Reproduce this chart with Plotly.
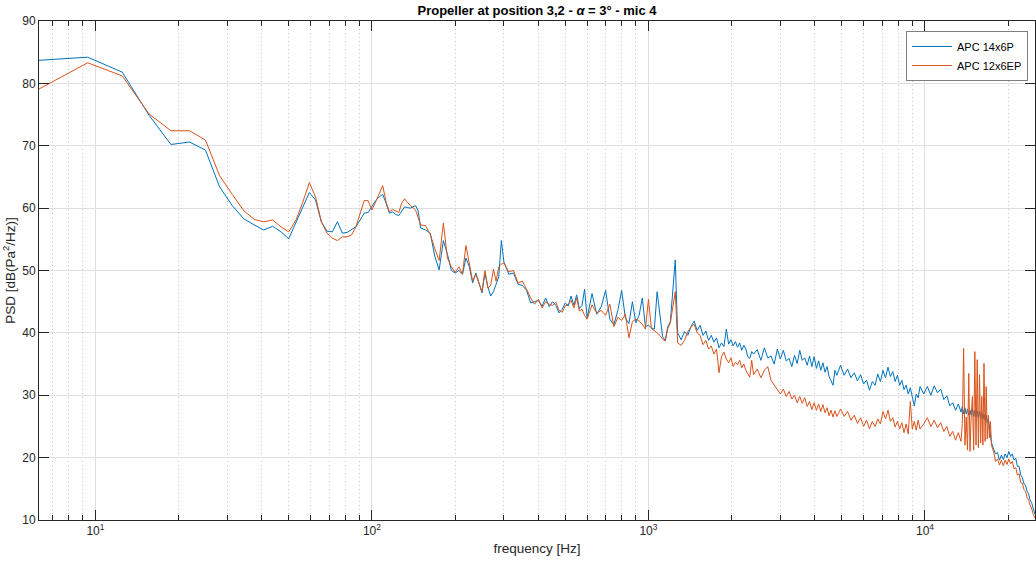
import plotly.graph_objects as go

# ---------------- data ----------------
freq_hz = [
    # uniform low-frequency bins
    6.25, 9.375, 12.5, 15.625, 18.75, 21.875, 25, 28.125, 31.25, 34.375,
    37.5, 40.625, 43.75, 46.875, 50, 53.125, 56.25, 59.375, 62.5, 65.625,
    68.75, 71.875, 75, 78.125, 81.25, 84.375, 87.5, 90.625, 93.75, 96.875,
    100, 103.125, 106.25, 109.375, 112.5, 115.625, 118.75, 121.875, 125, 128.125,
    131.25, 134.375, 137.5, 140.625, 143.75, 146.875, 150,
    # 150-300
    156.25, 162.5, 168.75, 175, 181.25, 187.5, 193.75, 200, 206.25, 212.5,
    218.75, 225, 231.25, 237.5, 243.75, 250, 256.25, 262.5, 268.75, 275,
    281.25, 287.5, 293.75, 300,
    # 300-600
    312.5, 325, 337.5, 350, 362.5, 375, 387.5, 400, 412.5, 425,
    437.5, 450, 462.5, 475, 487.5, 500, 512.5, 525, 537.5, 550,
    562.5, 575, 587.5, 600,
    # 600-1200
    625, 650, 675, 700, 725, 750, 775, 800, 825, 850,
    875, 900, 925, 950, 975, 1000, 1025, 1050, 1075, 1100,
    1125, 1150, 1175, 1200,
    # 1200-2400
    1250, 1275, 1312.5, 1350, 1387.5, 1425, 1462.5, 1500, 1537.5, 1575,
    1612.5, 1650, 1687.5, 1725, 1762.5, 1800, 1837.5, 1875, 1912.5, 1950,
    1987.5, 2025, 2062.5, 2100, 2137.5, 2175, 2212.5, 2250, 2287.5, 2325,
    2362.5, 2400,
    # 2400-4800
    2475, 2550, 2625, 2700, 2775, 2850, 2925, 3000, 3075, 3150,
    3225, 3300, 3375, 3450, 3525, 3600, 3675, 3750, 3825, 3900,
    3975, 4050, 4125, 4200, 4275, 4350, 4425, 4500, 4575, 4650,
    4725, 4800,
    # 4800-9600
    4950, 5100, 5250, 5400, 5550, 5700, 5850, 6000, 6150, 6300,
    6450, 6600, 6750, 6900, 7050, 7200, 7350, 7500, 7650, 7800,
    7950, 8100, 8250, 8400, 8550, 8700, 8850, 9000, 9150, 9300,
    9450, 9600,
    # 9600-19200
    9900, 10200, 10500, 10800, 11100, 11400, 11700, 12000, 12300, 12600,
    12900, 13200, 13500,
    13650, 13800, 13950, 14100, 14250, 14400, 14550, 14700, 14850, 15000,
    15150, 15300, 15450, 15600, 15750, 15900, 16050, 16200, 16350, 16500,
    16650, 16800, 16950, 17100, 17250, 17400,
    17700, 18000, 18300, 18600, 18900, 19200,
    # 19200-25000
    19500, 19800, 20100, 20400, 20700, 21000, 21300, 21600, 21900, 22200,
    22500, 22800, 23100, 23400, 23700, 24000, 24300, 24600, 24900, 25000,
]

psd_14x6P = [
    83.7, 84.2, 81.8, 74.9, 70.2, 70.6, 69.3, 63.4, 60.4, 58.3,
    57.3, 56.5, 57.1, 56.2, 55.1, 57.8, 60.2, 62.5, 61.3, 57.8,
    56.3, 56.2, 57.8, 56.0, 56.1, 56.5, 57.0, 58.1, 59.2, 59.3,
    60.2, 61.2, 61.8, 62.2, 60.8, 59.2, 59.4, 59.0, 58.8, 59.6,
    60.2, 60.1, 60.0, 60.2, 60.4, 59.6, 56.8,
    56.5, 56.0, 52.3, 50.1, 54.8, 52.6, 50.0, 49.6, 50.0, 49.4,
    52.0, 50.6, 48.0, 49.6, 48.0, 46.4, 49.6, 47.4, 45.9, 46.6,
    47.8, 49.0, 54.8, 51.4,
    49.4, 49.6, 47.8, 47.6, 46.8, 44.8, 45.0, 45.2, 44.3, 45.6,
    44.2, 45.0, 44.4, 43.2, 43.8, 44.8, 44.3, 45.9, 44.4, 46.1,
    43.9, 44.4, 47.0, 42.4,
    46.3, 43.0, 44.2, 46.8, 42.2, 41.3, 43.6, 46.8, 42.4, 41.5,
    45.0, 41.6, 42.8, 45.6, 41.0, 41.2, 40.8, 40.6, 46.6, 43.0,
    39.4, 38.8, 41.0, 41.8,
    51.7, 40.0, 38.9, 40.2, 39.6, 41.0, 41.9, 40.4, 41.2, 39.6,
    40.3, 38.8, 39.6, 38.5, 39.2, 37.6, 38.4, 37.8, 40.6, 38.2,
    38.9, 37.9, 38.6, 37.7, 38.4, 37.2, 38.0, 37.4, 36.2, 35.9,
    37.0, 36.6,
    37.3, 35.6, 37.6, 36.0, 36.3, 35.0, 37.4, 35.8, 37.2, 35.5,
    35.9, 34.6, 36.4, 35.1, 37.2, 35.6, 36.0, 34.8, 36.3, 34.6,
    36.2, 34.3, 35.5, 34.0, 35.2, 33.7, 34.6, 33.0, 32.4, 31.6,
    34.0, 33.2,
    34.8, 33.2, 34.2, 32.8, 33.6, 32.3, 33.3, 31.8, 32.4, 30.8,
    32.2, 31.6, 33.4, 32.2, 34.0, 32.8, 34.5, 33.0, 33.8, 32.2,
    33.2, 31.6, 32.4, 30.9, 31.6, 30.2, 31.2, 29.4, 28.3, 30.2,
    29.6, 31.4,
    30.2, 31.4, 30.0, 31.5, 30.4, 31.0, 29.3, 29.9, 28.3, 28.8,
    27.6, 28.6, 27.3,
    28.2, 27.0, 28.0, 27.0, 27.8, 26.8, 27.6, 26.8, 27.8, 26.6,
    27.6, 26.5, 27.5, 26.4, 27.4, 26.3, 27.3, 26.2, 27.0, 26.0,
    26.8, 25.6, 26.2, 24.8, 23.6, 22.4,
    21.4, 20.6, 20.8, 19.6, 20.4, 19.7,
    20.6, 20.0, 21.0, 20.2, 20.6, 19.6, 19.9, 18.6, 18.6, 17.2,
    16.8, 15.8, 15.6, 14.6, 14.2, 13.2, 12.8, 11.8, 11.2, 10.9,
]

psd_12x6EP = [
    79.1, 83.3, 81.2, 75.1, 72.4, 72.4, 70.9, 65.2, 62.2, 59.6,
    58.2, 57.8, 58.1, 57.0, 56.2, 58.1, 61.0, 64.1, 61.8, 57.8,
    56.0, 55.2, 54.8, 55.4, 55.4, 55.7, 57.0, 59.2, 61.2, 61.2,
    59.7, 61.0, 62.3, 63.6, 61.0, 59.4, 59.8, 59.5, 59.3, 60.8,
    61.5, 60.9, 60.5, 60.0, 59.7, 58.5, 57.3,
    57.2, 55.8, 53.5, 51.6, 57.6, 52.0, 50.6, 49.7, 50.6, 49.4,
    54.0, 50.8, 48.3, 49.4, 47.8, 46.6, 50.0, 47.2, 47.6, 50.2,
    48.3, 50.6, 51.0, 51.2,
    49.8, 50.0, 48.0, 48.3, 47.0, 45.6, 44.6, 45.4, 44.0, 45.0,
    44.6, 44.4, 44.9, 43.6, 43.3, 44.3, 44.6, 45.2, 44.0, 45.6,
    43.5, 43.8, 42.8, 42.2,
    44.5, 43.2, 43.6, 42.8, 44.6, 41.0, 42.5, 42.0, 43.0, 39.2,
    41.8, 42.2, 41.9, 41.4, 40.6, 45.4, 40.7, 40.4, 40.0, 39.6,
    39.0, 38.7, 40.7, 41.6,
    46.6, 38.4, 38.0, 38.8, 40.2, 40.9, 41.4, 40.0, 39.6, 38.1,
    38.8, 37.4, 37.9, 36.6, 37.4, 33.6, 36.2, 36.9, 35.8, 35.2,
    36.0, 34.6, 35.3, 34.9, 35.6, 34.4, 35.0, 34.0, 33.5, 32.9,
    35.6, 33.3,
    34.2, 32.8, 34.0, 34.6, 32.4, 31.6, 31.0, 30.2, 31.0, 29.8,
    30.6, 29.4, 30.0, 28.8, 29.8, 28.7, 29.6, 28.2, 29.0, 27.7,
    28.8, 27.6, 28.6, 27.4, 28.5, 27.2, 28.0, 26.7, 27.6, 26.5,
    27.5, 26.6,
    27.8, 26.6, 27.4, 26.0, 26.8, 25.5, 26.4, 25.0, 26.0, 24.6,
    25.8, 25.0, 26.2, 25.4, 27.4, 26.2, 27.6, 25.8, 26.4, 24.9,
    25.8, 24.6, 25.6, 24.0, 25.4, 23.8, 29.0, 24.6, 25.8, 24.4,
    26.0, 24.6,
    25.4, 26.4, 25.0, 26.0, 24.8, 25.6, 24.2, 25.0, 23.4, 24.2,
    22.8, 24.0, 22.6,
    25.5, 37.5, 22.0, 26.5, 21.2, 33.5, 21.0, 26.8, 29.8, 21.2,
    37.0, 22.0, 35.7, 21.6, 33.3, 22.4, 29.8, 22.0, 35.1, 22.6,
    31.4, 23.0, 26.8, 23.2, 25.8, 22.0,
    21.0, 19.4, 19.8, 18.8, 19.6, 18.7,
    19.6, 18.9, 19.8, 19.0, 19.4, 18.2, 18.4, 17.2, 17.4, 16.0,
    15.9, 14.9, 14.6, 13.6, 13.2, 12.4, 11.9, 11.0, 10.6, 10.3,
]

series_names = ["APC 14x6P", "APC 12x6EP"]
series_colors = ["#0072BD", "#D95319"]

x_major_ticks = [10, 100, 1000, 10000]
x_major_labels = ["10<sup>1</sup>", "10<sup>2</sup>", "10<sup>3</sup>", "10<sup>4</sup>"]
x_minor_ticks = [m * d for d in (1, 10, 100, 1000, 10000) for m in range(2, 10)]
y_ticks = [10, 20, 30, 40, 50, 60, 70, 80, 90]

# ---------------- figure ----------------
FONT = "Liberation Sans, Arial, Helvetica, sans-serif"
AX = "#262626"

fig = go.Figure()
for name, vals, col in zip(series_names, [psd_14x6P, psd_12x6EP], series_colors):
    fig.add_trace(go.Scatter(x=freq_hz, y=vals, mode="lines", name=name,
                             line=dict(color=col, width=1)))

fig.update_layout(
    width=1036, height=564,
    margin=dict(l=39, r=1, t=21, b=44),
    paper_bgcolor="white", plot_bgcolor="white",
    font=dict(family=FONT, size=12, color=AX),
    title=dict(text="<b>Propeller at position 3,2 - <i>α</i> = 3° - mic 4</b>",
               x=0.5, xref="paper", xanchor="center",
               y=1 - 10 / 564, yref="container", yanchor="middle",
               font=dict(family=FONT, size=13, color="black")),
    showlegend=True,
    legend=dict(x=0.993, y=0.98, xanchor="right", yanchor="top",
                bgcolor="white", bordercolor="#7f7f7f", borderwidth=1,
                font=dict(family=FONT, size=11, color="black"),
                tracegroupgap=0, itemwidth=40),
)

fig.update_xaxes(
    type="log", range=[0.79588, 4.39794],
    tickmode="array", tickvals=x_major_ticks, ticktext=x_major_labels,
    ticks="inside", ticklen=10, tickcolor=AX, tickwidth=1,
    showline=True, linecolor=AX, linewidth=1, mirror="ticks",
    showgrid=True, gridcolor="#dfdfdf", gridwidth=1,
    zeroline=False,
    tickfont=dict(family=FONT, size=12, color=AX),
    minor=dict(tickmode="array", tickvals=x_minor_ticks, ticks="inside",
               ticklen=5, tickcolor=AX, showgrid=True,
               gridcolor="#c4c4c4", griddash="1px,3px", gridwidth=1),
    title=dict(text="frequency [Hz]", font=dict(family=FONT, size=13.5, color=AX),
               standoff=6),
)
fig.update_yaxes(
    range=[10, 90], tickmode="array", tickvals=y_ticks,
    ticks="inside", ticklen=10, tickcolor=AX, tickwidth=1,
    showline=True, linecolor=AX, linewidth=1, mirror="ticks",
    showgrid=True, gridcolor="#dfdfdf", gridwidth=1,
    zeroline=False,
    tickfont=dict(family=FONT, size=12, color=AX),
    title=dict(text="PSD [dB(Pa<sup>2</sup>/Hz)]",
               font=dict(family=FONT, size=13.5, color=AX), standoff=4),
)

fig.write_html(
    "out.html",
    config={"displayModeBar": False},
    post_script="document.body.style.margin='0';document.body.style.overflow='hidden';",
)
